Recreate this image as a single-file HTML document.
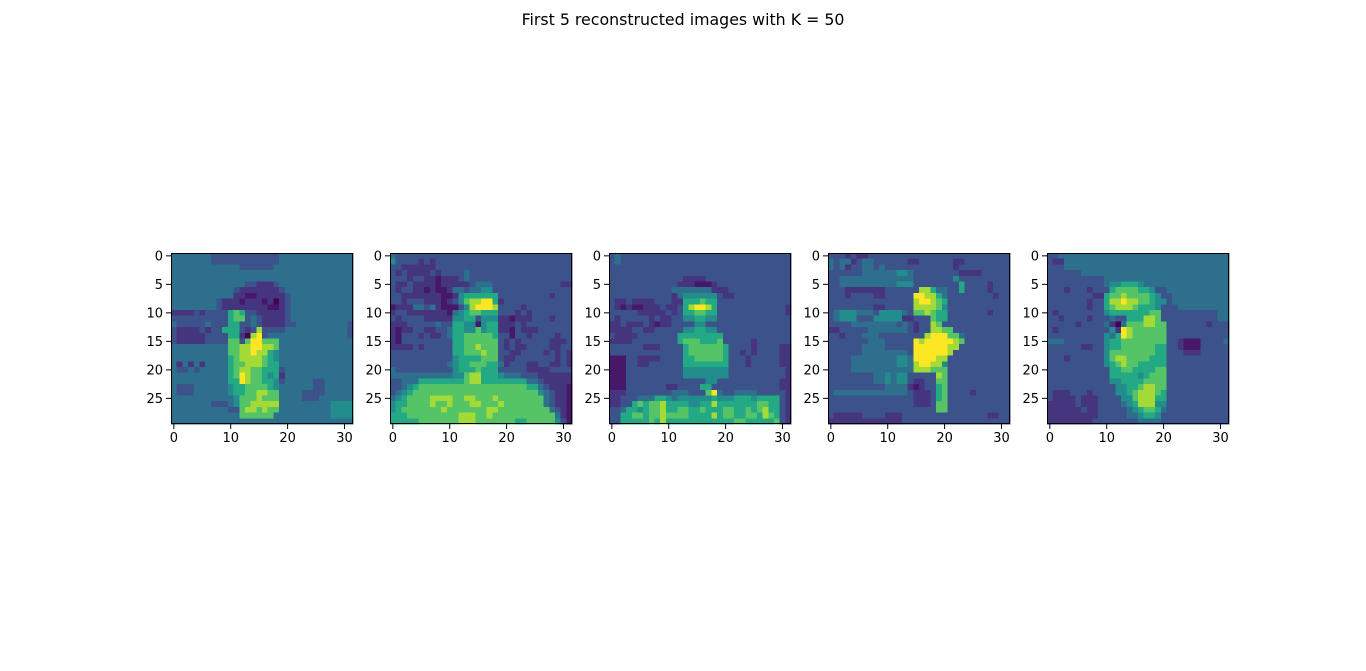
<!DOCTYPE html>
<html><head><meta charset="utf-8"><style>
html,body{margin:0;padding:0;background:#fff;width:1366px;height:671px;overflow:hidden}
svg{display:block}
text{font-family:"DejaVu Sans","Liberation Sans",sans-serif;fill:#000}
</style></head><body>
<svg id="fig" width="1366" height="671" viewBox="0 0 1366 671" xmlns="http://www.w3.org/2000/svg">
<rect width="1366" height="671" fill="#fff"/>
<text x="683" y="25" text-anchor="middle" font-size="15.8">First 5 reconstructed images with K = 50</text>
</svg>
<script>
const xTicks=[0,10,20,30];
const yTicks=[0,5,10,15,20,25];
const img1=[
"44444443333333333334444444444444","44444443333333333334444444444444","44444444444433333344444444444444",
"44444444444444444444444444444444","44444444444444444444444444444444","44444444444443322234444444444444",
"44444444444322222223444444444444","44444444444221122222344444444444","44444444322212221202344444444444",
"44444444322222222112344444444444","22223233336763322222344444444444","33333333336773432222344444444444",
"43333343336633432222334444444443","32222323366632383333444444444443","32222233336620893444444444444443",
"32222233337737997774444444444444","44444444447788998874444444444444","44444444447788988654444444444444",
"44444444446788887654444444444444","42424244446778887664444444444444","43343444446788776663444444444444",
"44444444446798776562444444444444","44444444446698776653444443344444","43334444445667777654444443344444",
"43334444445667788774444333344444","44444444444577787774444333444444","44444443334577888884444444445555",
"44444444443378878774444444445555","44444444444477777744444444445555","44444444444444444444444444444444"];
const img2=[
"43333333333333333333333333333333","53333232333333333333333333333333","33222222333333333333333333333333",
"32322223233334333333333333333333","33323322122234333333333333333333","32232222122222344433333333333322",
"32332212112443445533333333333333","33222222211256666663333333332333","33233322212357889962333333333333",
"12224434211135899983333233333333","23322222221456776663332323333333","32333322222556635552212223332333",
"22233333433665515662223233333333","21223322334665575662213222333333","21333232234667777763313323333233",
"21333333333667777773232333332223","22223233333667787773232233332233","33333333333667778773322333323232",
"33333333333566667773223333333232","33333333334566777664233322332232","43333333333566676663333322223333",
"44444444444557886665444333222222","33444666666667886666666644322222","33456777777777777777777766432221",
"34567777777777777777777777543221","45677778888778877787777777743221","56677778778777887778777777743221",
"56777777787777777887777777774321","66677777777788877877777777777421","66666777777788877777776677777531"];
const img3=[
"34333333333333333333333333333333","34333333333333333333333333333333","33333333333333333333333333333333",
"33333333333333333333333333333333","33333333333332222333333333333333","33333333333322211123333333333333",
"33333333333444444422233333333333","33333333333245555553223333333333","32232222333226667663333333333333",
"32121122232236899863333333333332","33333222223236677663333333333332","32333332322335566553333333333333",
"22322232122333355333333333333333","22223322333335566553333333333333","32222333333366666666333333333333",
"22223333333367776667333332333333","33333322233336777777633332333322","33333333333336777777633232333322",
"11133222233336677777633323333322","11133223333336666666633323333322","11133333333335555555533333333332",
"11133333333335555555533333333332","11133333333333333553333333333322","11133333332233336633333333333322",
"22233333333444333794334444333332","22333444665455555565556665666632","22336767786666556686666666776632",
"33466567786677667666776676786632","33667767787777666686776677687632","33666667686666666666667766666732"];
const img4=[
"33323223333333333333333333333333","43442344333333223333332233333333","43423344343333333333332333333333",
"33333344444455433333333222233333","33444444444444433333335333333333","33444444444455533333333633332333",
"33322222223333338864433633332333","33323333223333399886433333333233","33333333333333389987633333333333",
"33333333223333388887533333333333","34555444355554377876633333332333","34555333555552233376633333333333",
"33334444444434323387333333333333","22333334444444323388773333333333","33233344433333333899977433333333",
"33333334443333398999998733333333","33333344443333399999988333333333","33333344444444399999983333333333",
"33334444444455499998833333333333","33334444444455489988533333333333","33334444444444488877733333333333",
"33333333445455333338733333333333","33333333445455322337733333333333","33333333334444212336733333333333",
"34444444444444322236733332333333","33333333333333322236733333333333","33333333333333322237733333333333",
"33333333333333333337733333333333","32222233332223333333333333332233","22222222222223333333333333333333"];
const img5=[
"33444444444444444444444444444444","32244444444444444444444444444444","33344444444444444444444444444444",
"33333344444444444444444444444444","33333333334444444444444444444444","33333333334556665444444444444444",
"33323332333677776653344444444444","33333333226778777765334444444444","33333332336889887765534444444444",
"33333332336788876665333444444444","32333333335666666677333333333344","33233332333433666887333333333344",
"33333233334204777887733333332333","32333333333529877777733333333333","33333333335469877777733333333333",
"44433333335667777777733211133334","33333322335667777776633211133333","33333333335777777776633322233333",
"33323333335788777766633333333333","33333333335678776666633333333333","33333333333667766667733333333333",
"33333333333666665677733333333333","33333333333556666777733333333333","33333333333355667887733333333333",
"32223332333355678887633333333333","32222322233335578886633333333333","22222322233334568885533333333333",
"22222232233333456776433333333333","22222222233333445665333333333333","22222222333333334444333333333333"];
const images=[img1,img2,img3,img4,img5];

const VIR=[[68,1,84],[72,36,117],[65,68,135],[53,95,141],[42,120,142],[33,145,140],[34,168,132],[68,191,112],[122,209,81],[189,223,38],[253,231,37]];
function viridis(t){t=Math.max(0,Math.min(1,t));const p=t*10,i=Math.min(9,Math.floor(p)),f=p-i;
 const a=VIR[i],b=VIR[i+1];return 'rgb('+a.map((v,k)=>Math.round(v+(b[k]-v)*f)).join(',')+')';}
function colorOf(d){return viridis(Math.pow(d/9,1.25));}

const NS='http://www.w3.org/2000/svg';
const svg=document.getElementById('fig');
const AX_LEFT=171, AX_STEP=219, AX_TOP=253, AX_W=182, AX_H=171, NC=32, NR=30;
function mk(tag,attrs,parent){const e=document.createElementNS(NS,tag);for(const k in attrs)e.setAttribute(k,attrs[k]);parent.appendChild(e);return e;}

images.forEach((img,p)=>{
  const x0=AX_LEFT+p*AX_STEP;
  const cw=AX_W/NC, ch=AX_H/NR;
  const sx=v=>x0+(v+0.5)*cw;
  const sy=v=>AX_TOP+(v+0.5)*ch;
  const g=mk('g',{},svg);
  
  
  const cells=mk('g',{'shape-rendering':'crispEdges'},g);
  
  
  img.forEach((row,r)=>{
    for(let c=0;c<NC;c++){
      const d=parseInt(row[c]);
      const rc=mk('rect',{x:(sx(c)-cw/2).toFixed(2),y:(sy(r)-ch/2).toFixed(2),width:(cw+0.3).toFixed(2),height:(ch+0.3).toFixed(2),fill:colorOf(d)},cells);
      
      
    }
  });
  const fr=mk('rect',{x:x0+0.5,y:AX_TOP+0.5,width:AX_W-1,height:AX_H-1,fill:'none',stroke:'#000','stroke-width':1},g);
  
  
  xTicks.forEach(v=>{
    const x=sx(v);
    const tk=mk('line',{x1:x,x2:x,y1:AX_TOP+AX_H,y2:AX_TOP+AX_H+5,stroke:'#000','stroke-width':1},g);
    
    
    const t=mk('text',{x:x,y:AX_TOP+AX_H+18,'text-anchor':'middle','font-size':'13'},g);
    t.textContent=v;
    
    
  });
  yTicks.forEach(v=>{
    const y=sy(v);
    const tk=mk('line',{x1:x0-5,x2:x0,y1:y,y2:y,stroke:'#000','stroke-width':1},g);
    
    
    const t=mk('text',{x:x0-8,y:y+4.5,'text-anchor':'end','font-size':'13'},g);
    t.textContent=v;
    
    
  });
});
</script>
</body></html>
